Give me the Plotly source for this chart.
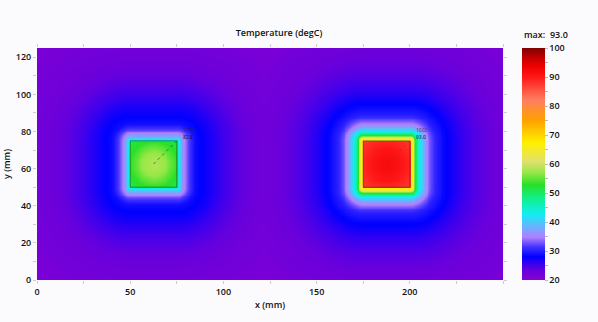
import numpy as np
import plotly.graph_objects as go

# ---- data ----
block_x0 = [50.0, 175.0]          # mm, left edges of heated blocks
block_x1 = [75.0, 200.0]          # mm, right edges
block_y0 = [50.0, 50.0]
block_y1 = [75.0, 75.0]
# interior temperatures vs normalised distance from block centre
inner_r = [0.0, 0.5, 1.0, 1.42]
inner_left = [58.5, 57.0, 53.0, 51.0]
inner_right = [92.0, 91.0, 89.0, 87.5]
# outside temperatures vs distance (mm) from block edge
out_d = [0.0, 1.0, 1.5, 2.5, 3.0, 4.0, 4.5, 6.0, 8.0, 9.0, 11.0, 14.0, 18.0, 20.0, 25.0, 30.0, 35.0, 45.0, 50.0, 70.0, 75.0, 100.0, 200.0]
out_left = [45.0, 42.5, 40.5, 37.5, 36.5, 35.0, 34.3, 32.0, 30.0, 29.0, 28.4, 27.8, 27.0, 26.5, 25.3, 24.3, 23.5, 22.5, 22.2, 21.2, 21.0, 20.5, 20.0]
out_right = [68.0, 66.0, 64.0, 56.0, 53.0, 47.0, 45.0, 41.0, 36.5, 35.0, 32.5, 30.0, 28.5, 28.0, 26.5, 25.3, 24.3, 23.0, 22.6, 21.4, 21.2, 20.5, 20.0]
max_label = "max:  93.0"
x_ticks = [0, 50, 100, 150, 200]
y_ticks = [0, 20, 40, 60, 80, 100, 120]
cb_ticks = [20, 25, 30, 35, 40, 45, 50, 55, 60, 65, 70, 75, 80, 85, 90, 95, 100]
cb_text = ["20", "", "30", "", "40", "", "50", "", "60", "", "70", "", "80", "", "90", "", "100"]

xs = np.arange(0, 250.01, 0.5)
ys = np.arange(0, 125.01, 0.5)
X, Y = np.meshgrid(xs, ys)

def field(i, inner_vals, out_vals):
    x0, x1, y0, y1 = block_x0[i], block_x1[i], block_y0[i], block_y1[i]
    cx, cy = (x0 + x1) / 2, (y0 + y1) / 2
    half = (x1 - x0) / 2
    dx = np.maximum(np.maximum(x0 - X, X - x1), 0)
    dy = np.maximum(np.maximum(y0 - Y, Y - y1), 0)
    d = np.hypot(dx, dy)
    inside = (X >= x0) & (X <= x1) & (Y >= y0) & (Y <= y1)
    r = np.hypot(X - cx, Y - cy) / half
    v = np.interp(d, out_d, out_vals)
    v[inside] = np.interp(r[inside], inner_r, inner_vals)
    return v

Z = np.maximum(field(0, inner_left, out_left), field(1, inner_right, out_right))
Z = np.round(Z, 1)

cscale = [
    [0.0, "#8600d2"], [0.04, "#6800dc"], [0.075, "#3000f2"], [0.1, "#0000ff"], [0.14, "#4030ff"],
    [0.185, "#b080ff"], [0.235, "#60b8ff"], [0.285, "#10eef0"], [0.35, "#10f090"],
    [0.41, "#28e028"], [0.465, "#9ae848"], [0.51, "#e0e070"], [0.59, "#fff000"],
    [0.69, "#ffa000"], [0.775, "#ff8060"], [0.875, "#ff1818"], [0.92, "#f00000"],
    [0.96, "#c00000"], [1.0, "#800000"],
]

font = dict(family="Open Sans, DejaVu Sans, sans-serif", size=9, color="#111", weight=600)

fig = go.Figure(go.Heatmap(
    x=xs, y=ys, z=Z, zmin=20, zmax=100, colorscale=cscale, zsmooth="best",
    hoverinfo="skip",
    colorbar=dict(
        x=1.0408, xanchor="left", xpad=0, y=0.5, yanchor="middle", len=1.0, ypad=0,
        thickness=23, outlinewidth=0, tickvals=cb_ticks, ticktext=cb_text,
        ticks="outside", ticklen=3, tickcolor="#bbb", tickfont=font,
    ),
))

# block outlines and probe lines
for i in range(2):
    x0, x1, y0, y1 = block_x0[i], block_x1[i], block_y0[i], block_y1[i]
    cx, cy = (x0 + x1) / 2, (y0 + y1) / 2
    fig.add_shape(type="rect", x0=x0, x1=x1, y0=y0, y1=y1,
                  line=dict(color="rgba(40,60,40,0.55)", width=1))
    fig.add_shape(type="line", x0=cx, y0=cy, x1=x1 + 1, y1=y1 + 1,
                  line=dict(color="rgba(30,80,30,0.7)" if i == 0 else "rgba(150,40,40,0.4)",
                            width=1, dash="dot"))
    fig.add_annotation(x=x1 + 2, y=y1 + 6, text="1002", showarrow=False,
                       xanchor="left", yanchor="middle",
                       font=dict(size=5, color="rgba(40,40,60,0.6)"))
    fig.add_annotation(x=x1 + 2, y=y1 + 2, text="82.8" if i == 0 else "93.0", showarrow=False,
                       xanchor="left", yanchor="middle",
                       font=dict(size=5, color="rgba(20,20,40,0.8)"))

fig.add_annotation(xref="paper", yref="paper", x=1.0408, y=1.02, xanchor="left", yanchor="bottom",
                   text=max_label, showarrow=False, font=font)

fig.update_layout(
    width=598, height=322,
    margin=dict(l=37, r=95, t=48, b=42, autoexpand=False),
    paper_bgcolor="#fbfbfd", plot_bgcolor="#fbfbfd",
    font=font,
    title=dict(text="Temperature (degC)", x=0.4666, xanchor="center", y=0.8975, yanchor="middle",
               font=font),
)
fig.update_xaxes(range=[0, 250], tickvals=x_ticks, ticks="outside", ticklen=3, tickcolor="#ccc",
                 minor=dict(ticks="outside", ticklen=3, dtick=25, tickcolor="#ccc"),
                 mirror="ticks", showline=False, showgrid=False, zeroline=False, automargin=False,
                 title=dict(text="x (mm)", standoff=4, font=font), tickfont=font)
fig.update_yaxes(range=[0, 125], tickvals=y_ticks, ticks="outside", ticklen=3, tickcolor="#ccc",
                 minor=dict(ticks="outside", ticklen=3, dtick=10, tickcolor="#ccc"),
                 mirror="ticks", showline=False, showgrid=False, zeroline=False, automargin=False,
                 title=dict(text="y (mm)", standoff=4, font=font), tickfont=font)

fig.write_html("out.html")
